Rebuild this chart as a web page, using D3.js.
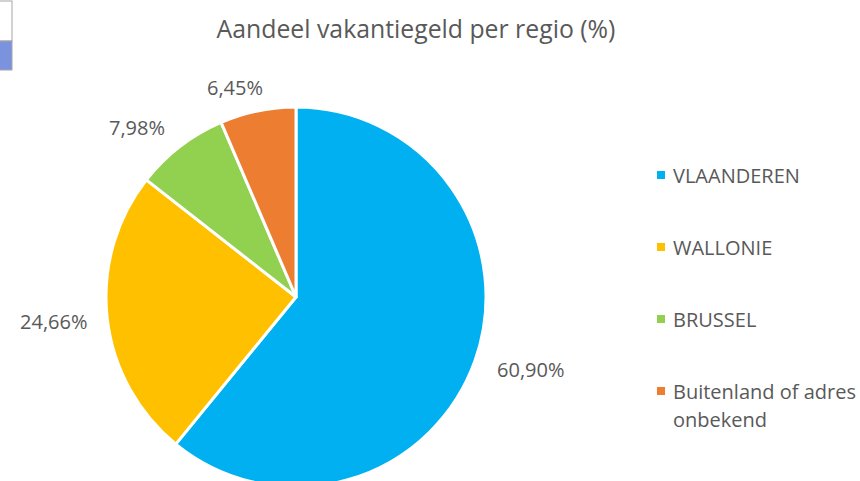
<!DOCTYPE html>
<html>
<head>
<meta charset="utf-8">
<script src="https://cdn.jsdelivr.net/npm/d3@7"></script>
<style>
  html, body { margin: 0; padding: 0; background: #fff; }
  svg { display: block; }
  text { font-family: "Open Sans", "Noto Sans", sans-serif; fill: #595959; }
</style>
</head>
<body>
<svg id="chart" width="860" height="481"></svg>
<script>
// ---- data ----
const title = "Aandeel vakantiegeld per regio (%)";
const categories = ["VLAANDEREN", "WALLONIE", "BRUSSEL", "Buitenland of adres onbekend"];
const legendLines = [["VLAANDEREN"], ["WALLONIE"], ["BRUSSEL"], ["Buitenland of adres", "onbekend"]];
const values = [60.90, 24.66, 7.98, 6.45];
const valueLabels = ["60,90%", "24,66%", "7,98%", "6,45%"];
const colors = ["#00B0F0", "#FFC000", "#92D050", "#ED7D31"];

// ---- layout ----
const W = 860, H = 481;
const cx = 296, cy = 297, R = 190;
const labelNudgeDeg = [1, 0, 3.5, 3.5]; // Excel best-fit shifts small labels away
const labelGap = [24, 20, 24, 16];
const svg = d3.select("#chart");

// stray spreadsheet fragment in top-left corner
const frag = svg.append("g");
frag.append("rect").attr("x", -1).attr("y", 1).attr("width", 13).attr("height", 40)
  .attr("fill", "#fff").attr("stroke", "#a6a6a6").attr("stroke-width", 1);
frag.append("rect").attr("x", -1).attr("y", 41).attr("width", 13).attr("height", 29)
  .attr("fill", "#7b93de").attr("stroke", "#a6a6a6").attr("stroke-width", 1);

// title
svg.append("text")
  .attr("x", 416).attr("y", 38)
  .attr("text-anchor", "middle")
  .style("font-size", "24.8px")
  .text(title);

// pie
const pie = d3.pie().sort(null).value(d => d)
  .startAngle(0).endAngle(2 * Math.PI);
const arcs = pie(values);
const arc = d3.arc().innerRadius(0).outerRadius(R);

const g = svg.append("g").attr("transform", `translate(${cx},${cy})`);
g.selectAll("path.slice")
  .data(arcs)
  .join("path")
  .attr("class", "slice")
  .attr("d", arc)
  .attr("fill", (d, i) => colors[i])
  .attr("stroke", "#fff")
  .attr("stroke-width", 3)
  .attr("stroke-linejoin", "round");

// data labels (outside end, best-fit-like)
const fs = 20;
g.selectAll("text.lbl")
  .data(arcs)
  .join("text")
  .attr("class", "lbl")
  .style("font-size", fs + "px")
  .text((d, i) => valueLabels[i])
  .each(function (d, i) {
    const t = d3.select(this);
    const w = this.getComputedTextLength();
    const h = fs * 1.15;
    const a = (d.startAngle + d.endAngle) / 2 - labelNudgeDeg[i] * Math.PI / 180;
    const s = Math.sin(a), c = Math.cos(a);
    const px = (R + labelGap[i]) * s, py = -(R + labelGap[i]) * c;
    const bx = px + (w / 2) * s, by = py - (h / 2) * c;
    t.attr("x", bx).attr("y", by)
      .attr("text-anchor", "middle")
      .attr("dominant-baseline", "central");
  });

// legend
const ly = d3.scalePoint().domain(d3.range(categories.length)).range([175, 391]);
const lg = svg.append("g");
const items = lg.selectAll("g.item")
  .data(categories)
  .join("g")
  .attr("class", "item")
  .attr("transform", (d, i) => `translate(657,${ly(i)})`);
items.append("rect")
  .attr("x", 0).attr("y", -4).attr("width", 8).attr("height", 8)
  .attr("fill", (d, i) => colors[i]);
items.each(function (d, i) {
  const t = d3.select(this).append("text")
    .attr("x", 16)
    .style("font-size", "20px");
  legendLines[i].forEach((line, j) => {
    t.append("tspan").attr("x", 16).attr("y", j * 28)
      .attr("dominant-baseline", "central")
      .text(line);
  });
});
</script>
</body>
</html>
